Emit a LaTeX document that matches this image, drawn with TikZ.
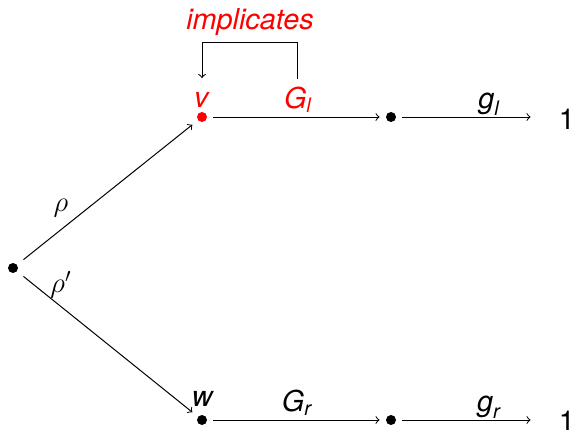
\documentclass[tikz,border=0pt]{standalone}
\usepackage{amsmath}
\usepackage{fontspec}
\setmainfont{TeX Gyre Heros}
\begin{document}
\begin{tikzpicture}[x=0.5pt,y=-0.5pt,
  font=\fontsize{14.4}{17}\selectfont,
  dot/.style={circle,fill=black,inner sep=0pt,minimum size=5pt},
  lab/.style={inner sep=0pt,anchor=base},
  arr/.style={->,line width=0.5pt}]
\useasboundingbox (0,0) rectangle (573,429);
% dots
\node[dot] (s) at (13,268) {};
\node[dot,fill=red] (v) at (202,117) {};
\node[dot] (m1) at (391,117) {};
\node[dot] (w) at (202,420) {};
\node[dot] (m2) at (391,420) {};
\node[inner sep=0pt] (o1) at (567,119) {1};
\node[inner sep=0pt] (o2) at (567,421) {1};
% labels
\node[lab,red] (vl) at (202,107) {\textit{v}};
\node[lab,red] (Gl) at (298,108) {$\textit{G}_{\textit{l}}$};
\node[lab,red] (impl) at (250,29) {\textit{implicates}};
\node[lab] (wl) at (203,406) {\textit{w}};
\node[lab] (Gr) at (297,411) {$\textit{G}_{\textit{r}}$};
\node[lab] (gl) at (489,108) {$\textit{g}_{\textit{l}}$};
\node[lab] (gr) at (489,411) {$\textit{g}_{\textit{r}}$};
\node (rho) at (61,208) {$\rho$};
\node (rhop) at (61,285) {$\rho'$};
% connectors
\draw[arr,shorten <=4pt,shorten >=3.5pt] (s) -- (v);
\draw[arr,shorten <=4pt,shorten >=3.5pt] (s) -- (w);
\draw[arr,shorten <=3pt,shorten >=3pt] (v) -- (m1);
\draw[arr,shorten <=3pt,shorten >=3pt] (w) -- (m2);
\draw[arr,shorten <=3pt,shorten >=14pt] (m1) -- (o1.west |- m1);
\draw[arr,shorten <=3pt,shorten >=14pt] (m2) -- (o2.west |- m2);
% implicates bracket
\coordinate (bs) at (297,79);
\coordinate (be) at (202,78);
\draw[arr] (bs) -- ++(0,-37) -| (be);
\end{tikzpicture}
\end{document}
